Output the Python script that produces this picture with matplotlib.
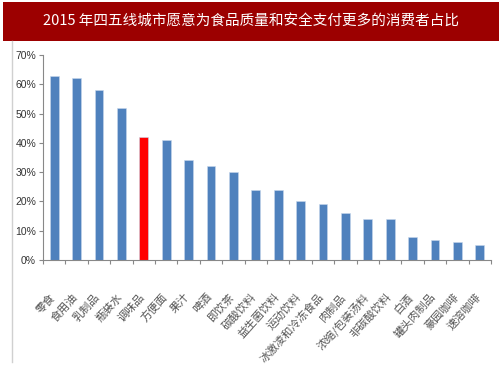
import matplotlib
matplotlib.use("Agg")
import matplotlib.pyplot as plt
from matplotlib.patches import Rectangle
from matplotlib.lines import Line2D

plt.rcParams['font.family'] = ['Noto Sans CJK SC', 'DejaVu Sans']

title = "2015 年四五线城市愿意为食品质量和安全支付更多的消费者占比"
categories = ["零食", "食用油", "乳制品", "瓶装水", "调味品", "方便面", "果汁", "啤酒", "即饮茶",
              "碳酸饮料", "益生菌饮料", "运动饮料", "冰激凌和冷冻食品", "肉制品", "浓缩/包装汤料",
              "非碳酸饮料", "白酒", "罐头肉制品", "豪园咖啡", "速溶咖啡"]
values = [63, 62, 58, 52, 42, 41, 34, 32, 30, 24, 24, 20, 19, 16, 14, 14, 8, 7, 6, 5]
highlight = "调味品"
yticks = [0, 10, 20, 30, 40, 50, 60, 70]

W, H = 503, 378
fig = plt.figure(figsize=(W / 100, H / 100), dpi=100)
fig.patch.set_facecolor("white")

# title banner
fig.patches.append(Rectangle((3 / W, 1 - 41 / H), 496 / W, 39 / H, transform=fig.transFigure,
                             facecolor="#9C0000", edgecolor="none"))
fig.text(251 / W, 1 - 22 / H, title, color="white", fontsize=10.5, ha="center", va="center")
# left gray frame line
fig.lines.append(Line2D([11.5 / W, 11.5 / W], [1 - 41 / H, 1 - 362 / H], transform=fig.transFigure,
                        color="#D0D0D0", lw=1))

ax = fig.add_axes([43 / W, 1 - 260 / H, 448 / W, 205 / H])
x = list(range(len(categories)))
colors = ["#FF0000" if c == highlight else "#4F81BD" for c in categories]
ax.bar(x, values, width=0.4, color=colors, edgecolor="#C8D8EC", linewidth=0.4, zorder=2)
ax.set_xlim(-0.5, len(categories) - 0.5)
ax.set_ylim(0, 70)
ax.set_yticks(yticks)
ax.set_yticklabels([f"{v}%" for v in yticks], family=['Liberation Sans', 'DejaVu Sans'],
                   fontsize=7.5, color="#333333")
ax.set_xticks([i - 0.5 for i in range(len(categories) + 1)], minor=False)
ax.set_xticklabels([""] * (len(categories) + 1))
ax.tick_params(axis='x', length=3, color="#888888", direction='out')
ax.tick_params(axis='y', length=3, color="#888888", direction='out', pad=2)
for s in ["top", "right"]:
    ax.spines[s].set_visible(False)
for s in ["left", "bottom"]:
    ax.spines[s].set_color("#888888")
    ax.spines[s].set_linewidth(0.8)

for i, c in enumerate(categories):
    ax.text(i - 0.05, -12.0, c, rotation=48, rotation_mode="anchor", ha="right", va="center",
            fontsize=8, color="#555555")

fig.savefig("out.png", dpi=100)
